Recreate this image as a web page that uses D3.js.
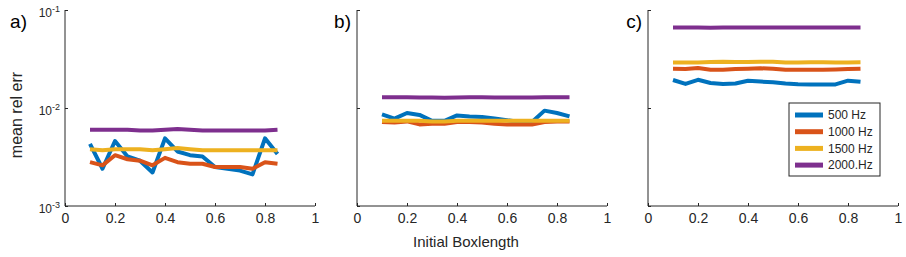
<!DOCTYPE html>
<html>
<head>
<meta charset="utf-8">
<script src="https://cdn.jsdelivr.net/npm/d3@7"></script>
<style>
body { margin: 0; background: #fff; }
svg { display: block; font-family: "Liberation Sans", Arial, sans-serif; }
.axis path, .axis line { stroke: #262626; }
.axis text { fill: #262626; font-size: 14px; }
</style>
</head>
<body>
<script>
// box lengths (x) shared by every panel
var boxlen = [0.1, 0.15, 0.2, 0.25, 0.3, 0.35, 0.4, 0.45, 0.5, 0.55, 0.6, 0.65, 0.7, 0.75, 0.8, 0.85];

var seriesNames = ["500 Hz", "1000 Hz", "1500 Hz", "2000.Hz"];
var panelNames = ["a)", "b)", "c)"];
var xTicks = [0, 0.2, 0.4, 0.6, 0.8, 1];
var yTicks = [1e-3, 1e-2, 1e-1];
var yTickExp = ["-3", "-2", "-1"];

// panel a
var a500 = [0.0043, 0.0024, 0.0046, 0.0032, 0.0029, 0.0022, 0.0049, 0.0036, 0.0033, 0.0032, 0.0025, 0.0024, 0.0023, 0.0021, 0.0049, 0.0034];
var a1000 = [0.0028, 0.0026, 0.0033, 0.0030, 0.0029, 0.0026, 0.0031, 0.0028, 0.0027, 0.0027, 0.0025, 0.0025, 0.0025, 0.0024, 0.0028, 0.0027];
var a1500 = [0.0038, 0.0037, 0.0038, 0.0038, 0.0038, 0.0037, 0.0038, 0.0039, 0.0038, 0.0037, 0.0037, 0.0037, 0.0037, 0.0037, 0.0037, 0.0037];
var a2000 = [0.0060, 0.0060, 0.0060, 0.0060, 0.0059, 0.0059, 0.0060, 0.0061, 0.0060, 0.0059, 0.0059, 0.0059, 0.0059, 0.0059, 0.0059, 0.0060];

// panel b
var b500 = [0.0086, 0.0078, 0.0089, 0.0085, 0.0074, 0.0074, 0.0084, 0.0082, 0.0081, 0.0078, 0.0075, 0.0072, 0.0072, 0.0094, 0.0089, 0.0082];
var b1000 = [0.0072, 0.0071, 0.0073, 0.0068, 0.0069, 0.0069, 0.0072, 0.0072, 0.0071, 0.0069, 0.0068, 0.0068, 0.0068, 0.0072, 0.0073, 0.0073];
var b1500 = [0.0074, 0.0074, 0.0074, 0.0074, 0.0073, 0.0073, 0.0074, 0.0074, 0.0074, 0.0074, 0.0074, 0.0074, 0.0074, 0.0074, 0.0074, 0.0074];
var b2000 = [0.0129, 0.0129, 0.0129, 0.0128, 0.0128, 0.0127, 0.0128, 0.0129, 0.0129, 0.0128, 0.0128, 0.0128, 0.0128, 0.0129, 0.0129, 0.0129];

// panel c
var c500 = [0.0193, 0.0176, 0.0194, 0.0180, 0.0176, 0.0178, 0.0190, 0.0186, 0.0183, 0.0178, 0.0175, 0.0174, 0.0174, 0.0174, 0.0190, 0.0185];
var c1000 = [0.0252, 0.0250, 0.0256, 0.0246, 0.0246, 0.0250, 0.0252, 0.0254, 0.0252, 0.0245, 0.0245, 0.0245, 0.0245, 0.0247, 0.0250, 0.0252];
var c1500 = [0.0292, 0.0292, 0.0292, 0.0294, 0.0296, 0.0294, 0.0294, 0.0297, 0.0296, 0.0292, 0.0292, 0.0293, 0.0293, 0.0292, 0.0292, 0.0293];
var c2000 = [0.0661, 0.0661, 0.0663, 0.0660, 0.0661, 0.0663, 0.0664, 0.0664, 0.0664, 0.0663, 0.0662, 0.0662, 0.0663, 0.0663, 0.0664, 0.0664];

var panels = [[a500, a1000, a1500, a2000], [b500, b1000, b1500, b2000], [c500, c1000, c1500, c2000]];
var colors = ["#0072BD", "#D95319", "#EDB120", "#7E2F8E"];

var width = 906;
var height = 257;
var panelLeft = [65, 357, 648];
var panelWidth = 250;
var plotTop = 10;
var plotBottom = 206;

var svg = d3.select("body").append("svg").attr("width", width).attr("height", height);

var yscale = d3.scaleLog().domain([1e-3, 1e-1]).range([plotBottom, plotTop]);

panels.forEach(function (series, p) {
    var xscale = d3.scaleLinear().domain([0, 1]).range([panelLeft[p], panelLeft[p] + panelWidth]);

    var xaxis = d3.axisBottom(xscale).tickValues(xTicks).tickSize(-3).tickPadding(7).tickFormat(d3.format(""));
    var yaxis = d3.axisLeft(yscale).tickValues(yTicks).tickSize(-3).tickFormat("");

    var gx = svg.append("g").attr("class", "axis").attr("transform", "translate(0," + plotBottom + ")").call(xaxis);
    gx.select(".domain").attr("d", "M" + xscale(0) + ",0H" + xscale(1));
    gx.selectAll("text").attr("dy", "0.71em");

    var gy = svg.append("g").attr("class", "axis").attr("transform", "translate(" + panelLeft[p] + ",0)").call(yaxis);
    gy.select(".domain").attr("d", "M0," + plotTop + "V" + plotBottom);

    if (p == 0) {
        var lab = svg.append("g").selectAll("text").data(yTicks).enter().append("text")
            .attr("x", panelLeft[p] - 5)
            .attr("y", function (d) { return yscale(d) + 7; })
            .attr("text-anchor", "end")
            .attr("fill", "#262626")
            .style("font-size", "12px");
        lab.append("tspan").text("10");
        lab.append("tspan").attr("dy", -5).style("font-size", "9px").text(function (d, i) { return yTickExp[i]; });
    }

    var line = d3.line().x(function (d, i) { return xscale(boxlen[i]); }).y(function (d) { return yscale(d); });

    svg.append("g").selectAll("path").data(series).enter().append("path")
        .attr("d", line)
        .attr("fill", "none")
        .attr("stroke", function (d, i) { return colors[i]; })
        .attr("stroke-width", 4)
        .attr("stroke-linejoin", "round");

    svg.append("text").text(panelNames[p])
        .attr("x", panelLeft[p] - (p == 0 ? 38 : 6))
        .attr("y", 28)
        .attr("text-anchor", "end")
        .attr("fill", "#000")
        .style("font-size", "19px");
});

// axis titles
svg.append("text").text("mean rel err")
    .attr("transform", "translate(22,115) rotate(-90)")
    .attr("text-anchor", "middle")
    .attr("fill", "#262626")
    .style("font-size", "16px");

svg.append("text").text("Initial Boxlength")
    .attr("x", panelLeft[1] + panelWidth / 2 - 16)
    .attr("y", 247)
    .attr("text-anchor", "middle")
    .attr("fill", "#262626")
    .style("font-size", "15px");

// legend
var legend = svg.append("g").attr("transform", "translate(789,103)");
legend.append("rect").attr("width", 91).attr("height", 73).attr("fill", "#fff").attr("stroke", "#262626").attr("stroke-width", 1);

var item = legend.selectAll("g.item").data(seriesNames).enter().append("g").attr("class", "item")
    .attr("transform", function (d, i) { return "translate(0," + (12 + i * 16.7) + ")"; });
item.append("line").attr("x1", 6).attr("x2", 34).attr("stroke", function (d, i) { return colors[i]; }).attr("stroke-width", 5);
item.append("text").text(function (d) { return d; })
    .attr("x", 39).attr("dy", "0.35em")
    .attr("fill", "#262626")
    .style("font-size", "12px");
</script>
</body>
</html>
